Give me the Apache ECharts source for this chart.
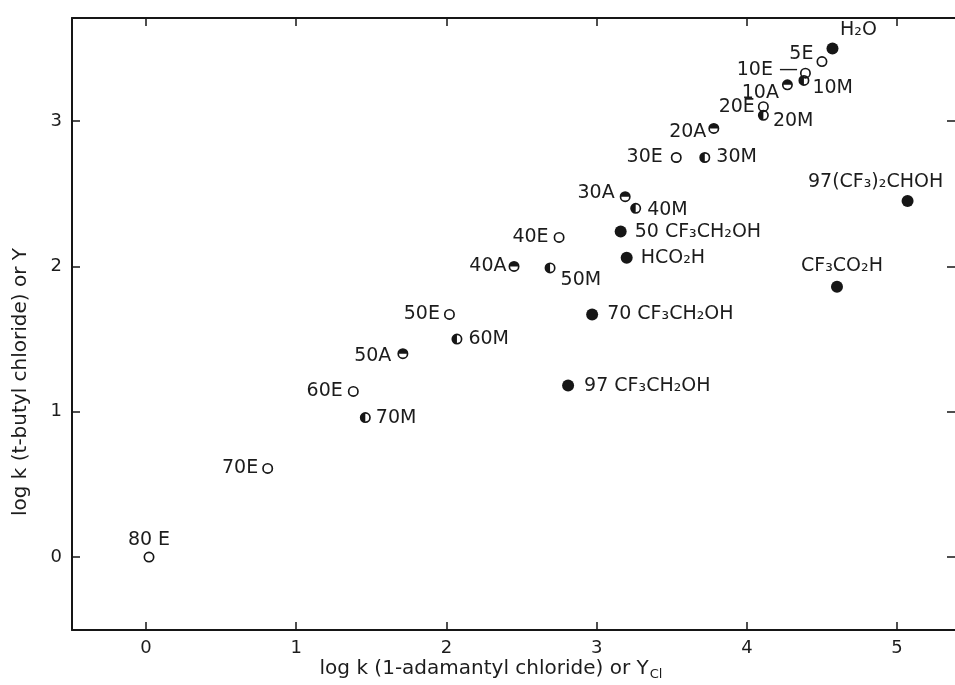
<!DOCTYPE html>
<html><head><meta charset="utf-8">
<script src="https://cdn.jsdelivr.net/npm/echarts@6/dist/echarts.min.js"></script>
<style>html,body{margin:0;padding:0;background:#fff}#c{width:955px;height:685px}</style>
</head><body><div id="c"></div>
<script>
// ---- data ----
const xTicks = [0, 1, 2, 3, 4, 5];
const yTicks = [0, 1, 2, 3];

// aqueous ethanol (open circles)
const eNames = ['80 E', '70E', '60E', '50E', '40E', '30E', '20E', '10E', '5E'];
const eX = [0.02, 0.81, 1.38, 2.02, 2.75, 3.53, 4.11, 4.39, 4.50];
const eY = [0.00, 0.61, 1.14, 1.67, 2.20, 2.75, 3.10, 3.33, 3.41];

// aqueous acetone (top half filled)
const aNames = ['10A', '20A', '30A', '40A', '50A'];
const aX = [4.27, 3.78, 3.19, 2.45, 1.71];
const aY = [3.25, 2.95, 2.48, 2.00, 1.40];

// aqueous methanol (left half filled)
const mNames = ['10M', '20M', '30M', '40M', '50M', '60M', '70M'];
const mX = [4.38, 4.11, 3.72, 3.26, 2.69, 2.07, 1.46];
const mY = [3.28, 3.04, 2.75, 2.40, 1.99, 1.50, 0.96];

// other solvents (filled)
const fNames = ['H₂O', '97(CF₃)₂CHOH', 'CF₃CO₂H', '50 CF₃CH₂OH', 'HCO₂H', '70 CF₃CH₂OH', '97 CF₃CH₂OH'];
const fX = [4.57, 5.07, 4.60, 3.16, 3.20, 2.97, 2.81];
const fY = [3.50, 2.45, 1.86, 2.24, 2.06, 1.67, 1.18];

// ---- label placement (style, not data) ----
const LAB = {
  '80 E': {pos: 'top', d: 2},
  '70E': {pos: 'left', d: 4},
  '60E': {pos: 'left', d: 5},
  '50E': {pos: 'left', d: 4},
  '40E': {pos: 'left', d: 5},
  '30E': {pos: 'left', d: 8},
  '20E': {pos: 'left', d: 3},
  '10E': {pos: 'left', d: 2, off: [0, -3], f: '{b} —'},
  '5E': {pos: 'left', d: 3, off: [0, -8]},
  '10A': {pos: 'left', d: 3, off: [0, 8]},
  '20A': {pos: 'left', d: 2, off: [0, 4]},
  '30A': {pos: 'left', d: 5, off: [0, -4]},
  '40A': {pos: 'left', d: 2},
  '50A': {pos: 'left', d: 6, off: [0, 2]},
  '10M': {pos: 'right', d: 3, off: [0, 8]},
  '20M': {pos: 'right', d: 4, off: [0, 6]},
  '30M': {pos: 'right', d: 6},
  '40M': {pos: 'right', d: 6, off: [0, 2]},
  '50M': {pos: 'right', d: 5, off: [0, 12]},
  '60M': {pos: 'right', d: 6},
  '70M': {pos: 'right', d: 5},
  'H₂O': {pos: 'top', d: 3, off: [26, 0]},
  '97(CF₃)₂CHOH': {pos: 'top', d: 4, off: [-32, 0]},
  'CF₃CO₂H': {pos: 'top', d: 5, off: [5, 0]},
  '50 CF₃CH₂OH': {pos: 'right', d: 8},
  'HCO₂H': {pos: 'right', d: 8},
  '70 CF₃CH₂OH': {pos: 'right', d: 9},
  '97 CF₃CH₂OH': {pos: 'right', d: 10}
};

const INK = '#161616';
const TXT = '#1c1c1c';
const RING = 'M0,10A10,10 0 1,1 20,10A10,10 0 1,1 0,10Z M3,10A7,7 0 1,0 17,10A7,7 0 1,0 3,10Z';
const TOPHALF = 'path://' + RING + ' M3,10A7,7 0 0,1 17,10Z';
const LEFTHALF = 'path://' + RING + ' M10,3A7,7 0 0,0 10,17Z';
const OPEN = 'path://' + RING;
const SANS = '"DejaVu Sans", sans-serif';
const LABEL_FONT = {fontFamily: SANS, fontSize: 19, color: TXT};

function mk(names, xs, ys, symbol, size) {
  return {
    type: 'scatter', xAxisIndex: 0, yAxisIndex: 0,
    symbol: symbol, symbolSize: size, silent: true,
    itemStyle: {color: INK, opacity: 1},
    label: Object.assign({show: true}, LABEL_FONT),
    data: names.map((n, i) => {
      const s = LAB[n] || {pos: 'right', d: 5};
      return {
        name: n, value: [xs[i], ys[i]],
        label: {position: s.pos, distance: s.d, offset: s.off || [0, 0], formatter: s.f || '{b}'}
      };
    })
  };
}

const XMIN = -0.4927, XMAX = 5.399, YMIN = -0.502, YMAX = 3.71;
const lineStyle = {color: INK, width: 2};
const tickStyle = {color: INK, width: 1.5};
const tickFont = {fontFamily: SANS, fontSize: 18, color: TXT};

const chart = echarts.init(document.getElementById('c'), null, {renderer: 'canvas'});
chart.setOption({
  backgroundColor: '#ffffff',
  animation: false,
  grid: {left: 72, top: 18, right: -2, bottom: 55, outerBoundsMode: 'none', containLabel: false},
  xAxis: [
    {type: 'value', position: 'bottom', min: XMIN, max: XMAX,
     axisLine: {show: true, lineStyle: lineStyle, onZero: false},
     axisTick: {show: true, inside: true, length: 8, customValues: xTicks, lineStyle: tickStyle},
     axisLabel: Object.assign({show: true, margin: 9, customValues: xTicks}, tickFont),
     splitLine: {show: false}},
    {type: 'value', position: 'top', min: XMIN, max: XMAX,
     axisLine: {show: true, lineStyle: lineStyle, onZero: false},
     axisTick: {show: true, inside: true, length: 8, customValues: xTicks, lineStyle: tickStyle},
     axisLabel: {show: false}, splitLine: {show: false}}
  ],
  yAxis: [
    {type: 'value', position: 'left', min: YMIN, max: YMAX,
     axisLine: {show: true, lineStyle: lineStyle, onZero: false},
     axisTick: {show: true, inside: true, length: 8, customValues: yTicks, lineStyle: tickStyle},
     axisLabel: Object.assign({show: true, margin: 10, customValues: yTicks}, tickFont),
     splitLine: {show: false}},
    {type: 'value', position: 'right', min: YMIN, max: YMAX,
     axisLine: {show: true, lineStyle: lineStyle, onZero: false},
     axisTick: {show: true, inside: true, length: 10, customValues: yTicks, lineStyle: tickStyle},
     axisLabel: {show: false}, splitLine: {show: false}}
  ],
  graphic: [
    {type: 'text', x: 21, y: 382, rotation: Math.PI / 2, silent: true,
     style: {text: 'log k (t-butyl chloride) or Y', fill: TXT,
             font: '20px "DejaVu Sans", sans-serif',
             align: 'center', verticalAlign: 'middle', textAlign: 'center', textVerticalAlign: 'middle'}},
    {type: 'text', x: 491, y: 670, silent: true,
     style: {text: '{a|log k (1-adamantyl chloride) or Y}{s|Cl}', fill: TXT,
             align: 'center', verticalAlign: 'middle', textAlign: 'center', textVerticalAlign: 'middle',
             rich: {
               a: {fontFamily: SANS, fontSize: 20, lineHeight: 22, verticalAlign: 'top', fill: TXT, color: TXT},
               s: {fontFamily: SANS, fontSize: 13, lineHeight: 14, verticalAlign: 'bottom', padding: [13, 0, 0, 1], fill: TXT, color: TXT}
             }}}
  ],
  series: [
    mk(eNames, eX, eY, OPEN, 11),
    mk(aNames, aX, aY, TOPHALF, 11),
    mk(mNames, mX, mY, LEFTHALF, 11),
    mk(fNames, fX, fY, 'circle', 12)
  ]
});
</script></body></html>
